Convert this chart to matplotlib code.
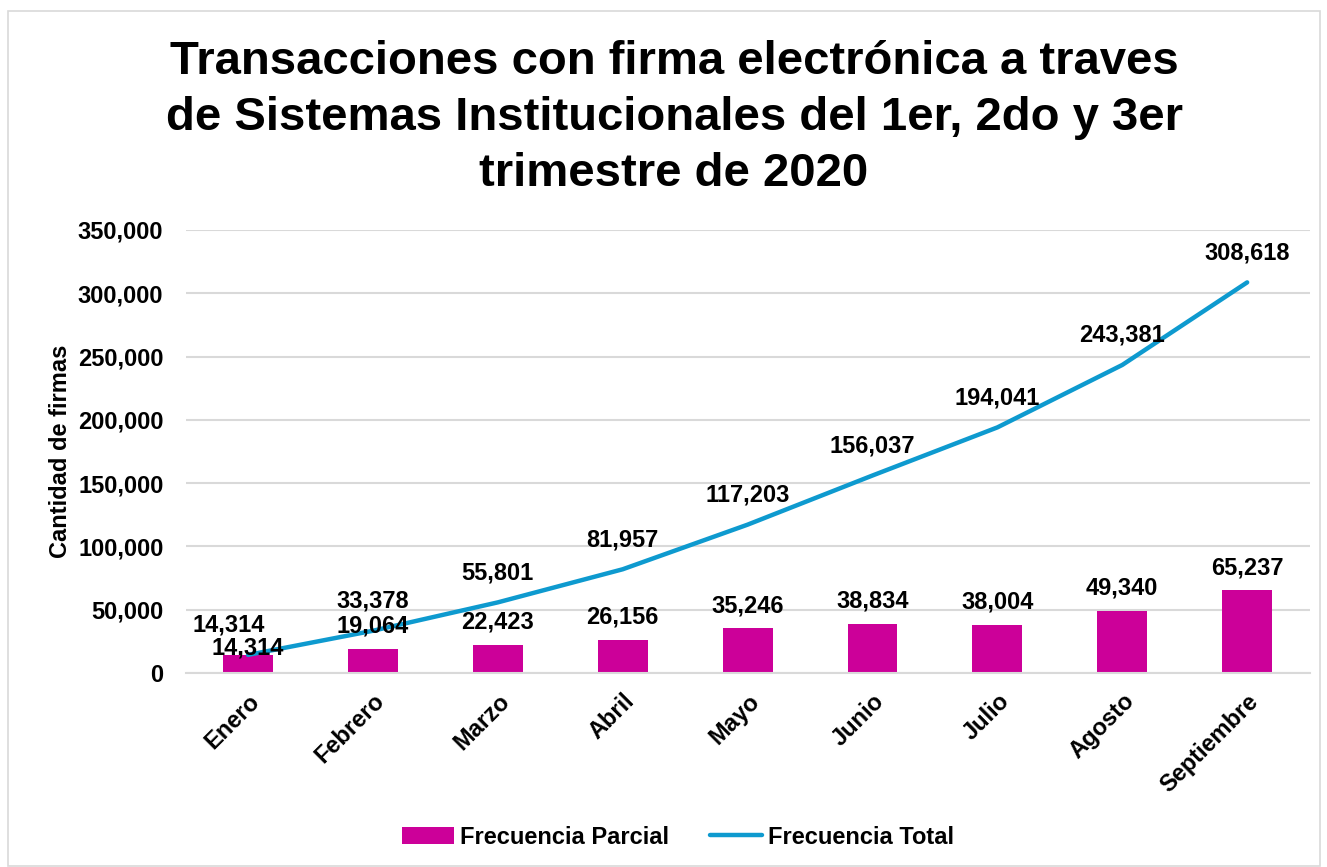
import matplotlib
matplotlib.use("Agg")
import matplotlib.pyplot as plt
from matplotlib.patches import Rectangle
from matplotlib.ticker import FuncFormatter
import numpy as np

plt.rcParams['font.family'] = ['Liberation Sans', 'DejaVu Sans']
plt.rcParams['font.weight'] = 'bold'

meses = ["Enero", "Febrero", "Marzo", "Abril", "Mayo", "Junio", "Julio", "Agosto", "Septiembre"]
frecuencia_parcial = [14314, 19064, 22423, 26156, 35246, 38834, 38004, 49340, 65237]
frecuencia_total = [14314, 33378, 55801, 81957, 117203, 156037, 194041, 243381, 308618]
yticks = [0, 50000, 100000, 150000, 200000, 250000, 300000, 350000]

bar_color = "#CC0099"
line_color = "#0E9ACF"

W, H = 1327, 867
fig = plt.figure(figsize=(W / 100, H / 100), dpi=100)
fig.patches.append(Rectangle((8 / W, 1 / H), (1320 - 8) / W, (855) / H, transform=fig.transFigure,
                             fill=False, edgecolor="#D9D9D9", linewidth=1.2))

ax = fig.add_axes([185.6 / W, (H - 673) / H, (1309.6 - 185.6) / W, (673 - 230) / H])
x = np.arange(len(meses))

bars = ax.bar(x, frecuencia_parcial, width=0.40, color=bar_color, label="Frecuencia Parcial", zorder=2)
line, = ax.plot(x, frecuencia_total, color=line_color, linewidth=3.2, solid_capstyle="round",
                label="Frecuencia Total", zorder=3)

ax.set_xlim(-0.5, len(meses) - 0.5)
ax.set_ylim(0, 350000)
ax.set_yticks(yticks)
ax.yaxis.set_major_formatter(FuncFormatter(lambda v, p: f"{int(v):,}"))
ax.grid(axis="y", color="#D9D9D9", linewidth=1.5, zorder=0)
ax.set_axisbelow(True)
for s in ["top", "right", "left"]:
    ax.spines[s].set_visible(False)
ax.spines["bottom"].set_color("#D9D9D9")
ax.spines["bottom"].set_linewidth(1.5)
ax.tick_params(axis="both", length=0, labelsize=17, pad=12)
ax.tick_params(axis="y", pad=16)
ax.set_xticks(x)
ax.set_xticklabels(meses, rotation=45, ha="right", va="top", rotation_mode="anchor", fontsize=17)
for lbl in ax.get_xticklabels():
    lbl.set_fontweight("bold")
for lbl in ax.get_yticklabels():
    lbl.set_fontweight("bold")

ax.set_ylabel("Cantidad de firmas", fontsize=17, fontweight="bold", labelpad=4)

for i, v in enumerate(frecuencia_parcial):
    off = -3 if i == 0 else 8
    ax.annotate(f"{v:,}", (x[i], v), xytext=(0, off), textcoords="offset points",
                ha="center", va="bottom", fontsize=17, fontweight="bold", zorder=4)
for i, v in enumerate(frecuencia_total):
    dx = -14 if i == 0 else 0
    ax.annotate(f"{v:,}", (x[i], v), xytext=(dx, 13), textcoords="offset points",
                ha="center", va="bottom", fontsize=17, fontweight="bold", zorder=4)

fig.text(674 / W, 1 - 118 / H,
         "Transacciones con firma electrónica a traves\nde Sistemas Institucionales del 1er, 2do y 3er\ntrimestre de 2020",
         ha="center", va="center", fontsize=34, fontweight="bold", linespacing=1.36)

leg = fig.legend([bars, line], ["Frecuencia Parcial", "Frecuencia Total"],
                 loc="center", bbox_to_anchor=(678 / W, 1 - 837 / H), ncol=2, frameon=False,
                 fontsize=17, handlelength=2.2, handletextpad=0.25, columnspacing=1.75)
for t in leg.get_texts():
    t.set_fontweight("bold")

fig.savefig("out.png", dpi=100)
